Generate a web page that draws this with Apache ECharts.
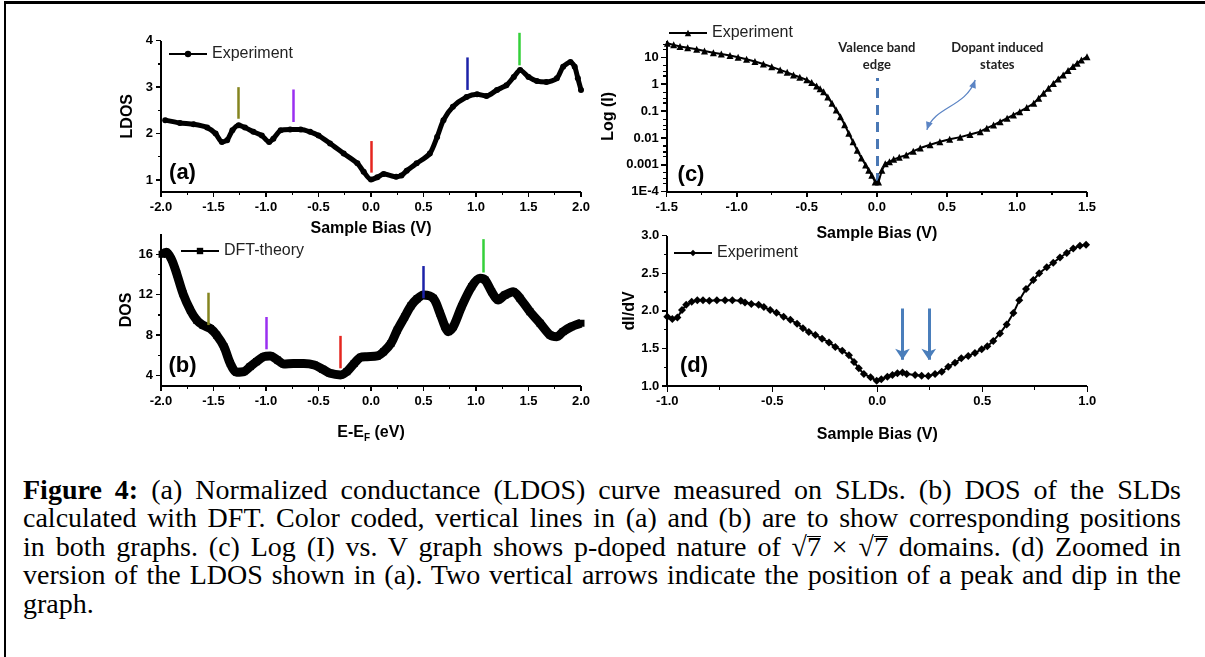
<!DOCTYPE html>
<html><head><meta charset="utf-8">
<script src="https://cdn.jsdelivr.net/npm/echarts@6/dist/echarts.min.js"></script>
<style>
html,body{margin:0;padding:0;background:#fff;}
#wrap{position:relative;width:1205px;height:657px;overflow:hidden;background:#fff;}
#chart{position:absolute;left:0;top:0;width:1205px;height:465px;}
#bt{position:absolute;left:4px;top:1px;width:1201px;height:3px;background:#000;}
#bl{position:absolute;left:4px;top:1px;width:2px;height:656px;background:#000;}
#cap{position:absolute;left:23px;top:476px;width:1158px;font-family:'Liberation Serif','Times New Roman',serif;font-size:28px;line-height:28.4px;color:#000;}
#cap .l{text-align:justify;text-align-last:justify;white-space:nowrap;}
#cap .last{text-align:left;}
.ov{display:inline-block;line-height:0.74em;border-top:1.5px solid #000;}
.ax{position:absolute;background:#000;z-index:5;}
</style></head><body>
<div id="wrap">
<div id="chart"></div>
<div id="bt"></div><div id="bl"></div>
<div id="cap">
<div class="l"><b>Figure 4:</b> (a) Normalized conductance (LDOS) curve measured on SLDs. (b) DOS of the SLDs</div>
<div class="l">calculated with DFT. Color coded, vertical lines in (a) and (b) are to show corresponding positions</div>
<div class="l">in both graphs. (c) Log (I) vs. V graph shows p-doped nature of √<span class="ov">7</span> × √<span class="ov">7</span> domains. (d) Zoomed in</div>
<div class="l">version of the LDOS shown in (a). Two vertical arrows indicate the position of a peak and dip in the</div>
<div class="last">graph.</div>
</div>
</div>
<script>
// ---------- data ----------
const aX = [-1.96,-1.82,-1.69,-1.56,-1.48,-1.42,-1.37,-1.32,-1.26,-1.20,-1.12,-1.04,-0.97,-0.93,-0.86,-0.77,-0.67,-0.58,-0.50,-0.39,-0.26,-0.13,-0.07,0.0,0.06,0.12,0.24,0.29,0.34,0.435,0.56,0.63,0.69,0.78,0.91,1.01,1.10,1.20,1.29,1.36,1.42,1.50,1.58,1.67,1.77,1.83,1.90,1.94,1.97,2.0];
const aY = [2.29,2.23,2.20,2.13,2.00,1.82,1.86,2.07,2.18,2.13,2.04,1.96,1.82,1.89,2.07,2.09,2.09,2.04,1.96,1.79,1.57,1.36,1.18,1.01,1.06,1.13,1.07,1.10,1.20,1.36,1.57,1.93,2.29,2.58,2.79,2.85,2.81,2.94,3.04,3.22,3.37,3.22,3.13,3.11,3.19,3.44,3.54,3.44,3.19,2.94];

const bX = [-1.99,-1.95,-1.90,-1.85,-1.79,-1.72,-1.66,-1.60,-1.53,-1.47,-1.40,-1.34,-1.28,-1.21,-1.15,-1.09,-1.02,-0.96,-0.89,-0.83,-0.74,-0.64,-0.54,-0.46,-0.39,-0.29,-0.23,-0.16,-0.10,-0.04,0.06,0.12,0.19,0.25,0.32,0.38,0.44,0.50,0.594,0.657,0.705,0.736,0.784,0.863,0.959,1.038,1.086,1.149,1.21,1.276,1.355,1.419,1.514,1.61,1.705,1.77,1.83,1.91,2.0];
const bY = [16.0,16.2,15.5,14.07,12.1,10.46,9.48,8.98,8.66,8.0,6.85,5.2,4.33,4.39,4.89,5.38,5.87,5.94,5.54,5.15,5.2,5.2,5.05,4.62,4.23,4.07,4.39,5.2,5.8,5.87,5.94,6.36,7.18,8.5,9.8,10.9,11.6,11.97,11.65,10.17,8.84,8.35,8.84,10.82,12.8,13.62,13.46,12.3,11.48,11.97,12.3,11.65,10.32,9.18,8.02,7.85,8.35,8.84,9.18];

const cX = [-1.495,-1.45,-1.405,-1.35,-1.286,-1.23,-1.167,-1.11,-1.048,-0.99,-0.93,-0.87,-0.81,-0.75,-0.69,-0.64,-0.595,-0.55,-0.5,-0.465,-0.43,-0.405,-0.38,-0.35,-0.32,-0.29,-0.26,-0.23,-0.2,-0.17,-0.14,-0.11,-0.08,-0.058,-0.036,-0.012,0.012,0.036,0.06,0.09,0.12,0.16,0.21,0.26,0.31,0.38,0.45,0.52,0.595,0.665,0.738,0.785,0.833,0.88,0.93,0.975,1.02,1.07,1.12,1.155,1.19,1.225,1.26,1.295,1.33,1.365,1.4,1.43,1.46,1.5];
const cY = [33,29,25,22.5,20,17,14.8,13.2,11.7,10,8.5,7,5.6,4.4,3.4,2.75,2.2,1.8,1.45,1.15,0.85,0.68,0.52,0.33,0.195,0.11,0.062,0.031,0.0148,0.0072,0.0035,0.0018,0.00098,0.00063,0.00041,0.00023,0.00023,0.00063,0.0011,0.0013,0.0016,0.0019,0.0023,0.0032,0.0042,0.0056,0.0072,0.0089,0.0107,0.0135,0.017,0.023,0.030,0.04,0.054,0.072,0.095,0.135,0.195,0.3,0.46,0.7,1.07,1.55,2.2,3.2,4.5,6.0,7.9,10.5];

const dX = [-1.0,-0.976,-0.952,-0.93,-0.91,-0.884,-0.857,-0.83,-0.80,-0.764,-0.725,-0.69,-0.65,-0.63,-0.60,-0.565,-0.54,-0.51,-0.48,-0.446,-0.414,-0.382,-0.354,-0.326,-0.295,-0.263,-0.23,-0.20,-0.167,-0.135,-0.111,-0.088,-0.064,-0.032,-0.003,0.019,0.048,0.072,0.096,0.12,0.14,0.18,0.211,0.243,0.275,0.307,0.338,0.37,0.40,0.433,0.465,0.497,0.524,0.552,0.584,0.616,0.648,0.676,0.708,0.743,0.771,0.807,0.838,0.87,0.902,0.933,0.965,0.994];
const dY = [1.92,1.89,1.91,2.01,2.08,2.12,2.14,2.14,2.135,2.14,2.14,2.14,2.135,2.11,2.09,2.08,2.05,2.01,1.976,1.92,1.88,1.83,1.77,1.72,1.68,1.63,1.58,1.52,1.47,1.41,1.32,1.235,1.16,1.115,1.07,1.09,1.124,1.146,1.17,1.18,1.16,1.146,1.137,1.133,1.16,1.19,1.257,1.31,1.368,1.40,1.44,1.488,1.53,1.60,1.70,1.82,1.97,2.14,2.29,2.41,2.50,2.58,2.64,2.71,2.77,2.83,2.866,2.88];

// colour-coded marker lines (a) and (b)
const markColors = ['#85851f','#9a2ff0','#e5261f','#1c22a8','#35d03a'];
const aMarkX = [-1.26,-0.74,0.0,0.92,1.41];
const aMarkLo = [2.32,2.25,1.16,2.94,3.47];
const aMarkHi = [3.0,2.95,1.84,3.64,4.17];
const bMarkX = [-1.55,-1.0,-0.29,0.50,1.07];
const bMarkLo = [9.0,6.6,4.72,11.65,14.2];
const bMarkHi = [12.2,9.8,7.93,14.84,17.5];

// (c) valence band edge dashed line, (d) arrows
const cEdgeX = 0.0, cEdgeLo = 0.00021, cEdgeHi = 1.7;
const dArrowX = [0.12, 0.245];
const dArrowTop = 2.03, dArrowBot = 1.35;

// axis ranges and ticks
const abRangeX = [-2, 2], cRangeX = [-1.5, 1.5], dRangeX = [-1, 1];
const aRangeY = [0.75, 4], bRangeY = [3, 18], cRangeY = [0.0001, 40], dRangeY = [1, 3];
const abTicksX = [-2,-1.5,-1,-0.5,0,0.5,1,1.5,2];
const abMinorX = [-1.75,-1.25,-0.75,-0.25,0.25,0.75,1.25,1.75];
const cTicksX = [-1.5,-1,-0.5,0,0.5,1,1.5];
const cMinorX = [-1.25,-0.75,-0.25,0.25,0.75,1.25];
const dTicksX = [-1,-0.5,0,0.5,1];
const dMinorX = [-0.75,-0.25,0.25,0.75];
const aTicksY = [1,2,3,4];
const aMinorY = [1.5,2.5,3.5];
const bTicksY = [4,8,12,16];
const bMinorY = [6,10,14];
const cTicksY = [0.0001,0.001,0.01,0.1,1,10];
const cTickText = ['1E-4','0.001','0.01','0.1','1','10'];
const cMinorY = [0.0002,0.0003,0.0005,0.002,0.003,0.005,0.02,0.03,0.05,0.2,0.3,0.5,2,3,5,20,30];
const dTicksY = [1,1.5,2,2.5,3];
const dMinorY = [1.25,1.75,2.25,2.75];

// ---------- helpers ----------
const FONT = 'Liberation Sans';
const zip = (xs, ys) => xs.map((x, i) => [x, ys[i]]);
const noLine = {show:false, onZero:false};
const noTick = {show:false};
const lab = {color:'#000', fontFamily:FONT, fontWeight:'bold', fontSize:13};
const nameSt = {color:'#000', fontFamily:FONT, fontWeight:'bold', fontSize:16};

function xAx(g, r, name, gap, extra) {
  return Object.assign({
    type:'value', gridIndex:g, position:'bottom', min:r[0], max:r[1], interval:0.5,
    axisLine:noLine, axisTick:noTick, splitLine:{show:false},
    axisLabel:Object.assign({margin:9, formatter:v => v.toFixed(1)}, lab),
    name:name, nameLocation:'middle', nameGap:gap, nameTextStyle:nameSt
  }, extra || {});
}
function markLines(g, xs, lo, hi) {
  return {
    type:'lines', coordinateSystem:'cartesian2d', xAxisIndex:g, yAxisIndex:g,
    silent:true, clip:false, z:5,
    data: xs.map((x, i) => ({coords:[[x, lo[i]], [x, hi[i]]], lineStyle:{color:markColors[i], width:2.5, opacity:1}}))
  };
}
const legendBase = {
  orient:'horizontal', padding:0, itemWidth:38, itemHeight:8, itemGap:0,
  textStyle:{fontFamily:FONT, fontSize:16, color:'#222', padding:[0,0,0,0]},
  lineStyle:{width:2}, formatter:n => n.replace(/ \([a-d]\)$/, ''), selectedMode:false
};

const chart = echarts.init(document.getElementById('chart'));
const option = {
  animation:false,
  backgroundColor:'transparent',
  grid:[
    {left:161, top:40.7, width:420, height:151},
    {left:161, top:234.1, width:420, height:151.6},
    {left:666.7, top:41.1, width:420.3, height:150.6},
    {left:667.3, top:235.7, width:420, height:150.3}
  ],
  xAxis:[
    xAx(0, abRangeX, 'Sample Bias (V)', 29),
    xAx(1, abRangeX, '{n|E-E}{s|F}{n| (eV)}', 36, {nameTextStyle:{rich:{
      n:{color:'#000', fontFamily:FONT, fontWeight:'bold', fontSize:16, lineHeight:22, verticalAlign:'middle'},
      s:{color:'#000', fontFamily:FONT, fontWeight:'bold', fontSize:10, lineHeight:22, verticalAlign:'bottom'}}}}),
    xAx(2, cRangeX, 'Sample Bias (V)', 34),
    xAx(3, dRangeX, 'Sample Bias (V)', 41)
  ],
  yAxis:[
    {type:'value', gridIndex:0, position:'left', min:aRangeY[0], max:aRangeY[1], axisLine:noLine, axisTick:noTick, splitLine:{show:false},
     axisLabel:Object.assign({margin:8, customValues:aTicksY}, lab),
     name:'LDOS', nameLocation:'middle', nameGap:25, nameTextStyle:nameSt},
    {type:'value', gridIndex:1, position:'left', min:bRangeY[0], max:bRangeY[1], axisLine:noLine, axisTick:noTick, splitLine:{show:false},
     axisLabel:Object.assign({margin:8, customValues:bTicksY}, lab),
     name:'DOS', nameLocation:'middle', nameGap:26, nameTextStyle:nameSt},
    {type:'log', logBase:10, gridIndex:2, position:'left', min:cRangeY[0], max:cRangeY[1], axisLine:noLine, axisTick:noTick, splitLine:{show:false},
     minorTick:{show:false},
     axisLabel:Object.assign({margin:8, customValues:cTicksY,
       formatter:v => { let k = 0; cTicksY.forEach((t, i) => { if (Math.abs(Math.log10(v) - Math.log10(t)) < 0.01) k = i; }); return cTickText[k]; }}, lab),
     name:'Log (I)', nameLocation:'middle', nameGap:50, nameTextStyle:nameSt},
    {type:'value', gridIndex:3, position:'left', min:dRangeY[0], max:dRangeY[1], interval:0.5, axisLine:noLine, axisTick:noTick, splitLine:{show:false},
     axisLabel:Object.assign({margin:8, formatter:v => v.toFixed(1)}, lab),
     name:'dI/dV', nameLocation:'middle', nameGap:18, nameTextStyle:nameSt}
  ],
  legend:[
    Object.assign({left:168, top:46, data:['Experiment (a)']}, legendBase),
    Object.assign({left:180, top:243, data:['DFT-theory']}, legendBase),
    Object.assign({left:668, top:25, data:['Experiment (c)']}, legendBase),
    Object.assign({left:673, top:245, data:['Experiment (d)']}, legendBase)
  ],
  series:[
    {name:'Experiment (a)', type:'line', xAxisIndex:0, yAxisIndex:0, data:zip(aX, aY),
     symbol:'circle', symbolSize:6, smooth:0.25, z:3,
     lineStyle:{color:'#000', width:5}, itemStyle:{color:'#000'}},
    {name:'DFT-theory', type:'line', xAxisIndex:1, yAxisIndex:1, data:zip(bX, bY),
     symbol:'rect', symbolSize:7, smooth:0.3, z:3,
     lineStyle:{color:'#000', width:9}, itemStyle:{color:'#000'}},
    {name:'Experiment (c)', type:'line', xAxisIndex:2, yAxisIndex:2, data:zip(cX, cY),
     symbol:'triangle', symbolSize:7, z:3,
     lineStyle:{color:'#000', width:2}, itemStyle:{color:'#000'}},
    {name:'Experiment (d)', type:'line', xAxisIndex:3, yAxisIndex:3, data:zip(dX, dY),
     symbol:'diamond', symbolSize:8, z:3,
     lineStyle:{color:'#000', width:2}, itemStyle:{color:'#000'}},
    markLines(0, aMarkX, aMarkLo, aMarkHi),
    markLines(1, bMarkX, bMarkLo, bMarkHi),
    {type:'lines', coordinateSystem:'cartesian2d', xAxisIndex:2, yAxisIndex:2, silent:true, z:2,
     data:[{coords:[[cEdgeX, cEdgeLo], [cEdgeX, cEdgeHi]]}],
     lineStyle:{color:'#4a78b5', width:3, opacity:1, type:[10,7]}},
    {type:'lines', coordinateSystem:'cartesian2d', xAxisIndex:3, yAxisIndex:3, silent:true, z:4,
     data:dArrowX.map(x => ({coords:[[x, dArrowTop], [x, dArrowBot]]})),
     symbol:['none','arrow'], symbolSize:[0,11],
     lineStyle:{color:'#4a7ebb', width:3, opacity:1}}
  ]
};
chart.setOption(option);

// ---------- axis lines and ticks (positions from the axes' own scales) ----------
const P = (g, x, y) => chart.convertToPixel({gridIndex:g}, [x, y]);
const wrapEl = document.getElementById('wrap');
function bar(x, y, w, h) {
  const d = document.createElement('div');
  d.className = 'ax';
  d.style.left = x + 'px'; d.style.top = y + 'px';
  d.style.width = w + 'px'; d.style.height = h + 'px';
  wrapEl.appendChild(d);
}
function drawAxes(g, rx, ry, tx, mx, ty, my) {
  const o = P(g, rx[0], ry[0]), r = P(g, rx[1], ry[0]), t = P(g, rx[0], ry[1]);
  const W = 2;
  bar(o[0] - W / 2, o[1] - W / 2, r[0] - o[0] + W / 2, W);        // x axis line
  bar(o[0] - W / 2, t[1], W, o[1] - t[1] + W / 2);                // y axis line
  tx.forEach(v => { const p = P(g, v, ry[0]); bar(p[0] - 0.75, o[1], 1.5, 5.5); });
  mx.forEach(v => { const p = P(g, v, ry[0]); bar(p[0] - 0.6, o[1], 1.2, 3.5); });
  ty.forEach(v => { const p = P(g, rx[0], v); bar(o[0] - 5.5, p[1] - 0.75, 5.5, 1.5); });
  my.forEach(v => { const p = P(g, rx[0], v); bar(o[0] - 3.5, p[1] - 0.6, 3.5, 1.2); });
}
drawAxes(0, abRangeX, aRangeY, abTicksX, abMinorX, aTicksY, aMinorY);
drawAxes(1, abRangeX, bRangeY, abTicksX, abMinorX, bTicksY, bMinorY);
drawAxes(2, cRangeX, cRangeY, cTicksX, cMinorX, cTicksY, cMinorY);
drawAxes(3, dRangeX, dRangeY, dTicksX, dMinorX, dTicksY, dMinorY);

// ---------- annotations ----------
const p0 = P(2, 0.357, 0.02), p3 = P(2, 0.702, 1.43);
const cp1 = [p0[0] + 8, p0[1] - 24], cp2 = [p3[0] - 10, p3[1] + 28];
function head(tip, from, len, hw) {
  const dx = tip[0] - from[0], dy = tip[1] - from[1], L = Math.hypot(dx, dy);
  const ux = dx / L, uy = dy / L;
  const bx = tip[0] - ux * len, by = tip[1] - uy * len;
  return [[tip[0], tip[1]], [bx - uy * hw, by + ux * hw], [bx + uy * hw, by - ux * hw]];
}
const arrowCol = '#5b84c4';
const edgePx = P(2, 0, 1)[0];
const dopPx = P(2, 0.86, 1)[0];
const annFont = {fontFamily:'Lato', fontWeight:'bold', fontSize:13, fill:'#222', textAlign:'center', lineHeight:17};
const panelFont = {fontFamily:FONT, fontWeight:'bold', fontSize:22, fill:'#000', textAlign:'center', textVerticalAlign:'middle'};
chart.setOption({graphic:[
  {type:'text', x:edgePx, y:39, style:Object.assign({text:'Valence band\nedge'}, annFont)},
  {type:'text', x:dopPx, y:39, style:Object.assign({text:'Dopant induced\nstates'}, annFont)},
  {type:'bezierCurve', shape:{x1:p0[0], y1:p0[1], cpx1:cp1[0], cpy1:cp1[1], cpx2:cp2[0], cpy2:cp2[1], x2:p3[0], y2:p3[1]},
   style:{stroke:arrowCol, lineWidth:1.3, fill:null}},
  {type:'polygon', shape:{points:head(p0, cp1, 8, 3.5)}, style:{fill:arrowCol}},
  {type:'polygon', shape:{points:head(p3, cp2, 8, 3.5)}, style:{fill:arrowCol}},
  {type:'text', x:182.5, y:172.5, style:Object.assign({text:'(a)'}, panelFont)},
  {type:'text', x:182.5, y:366, style:Object.assign({text:'(b)'}, panelFont)},
  {type:'text', x:691, y:175, style:Object.assign({text:'(c)'}, panelFont)},
  {type:'text', x:694, y:366, style:Object.assign({text:'(d)'}, panelFont)}
]});
</script>
</body></html>
